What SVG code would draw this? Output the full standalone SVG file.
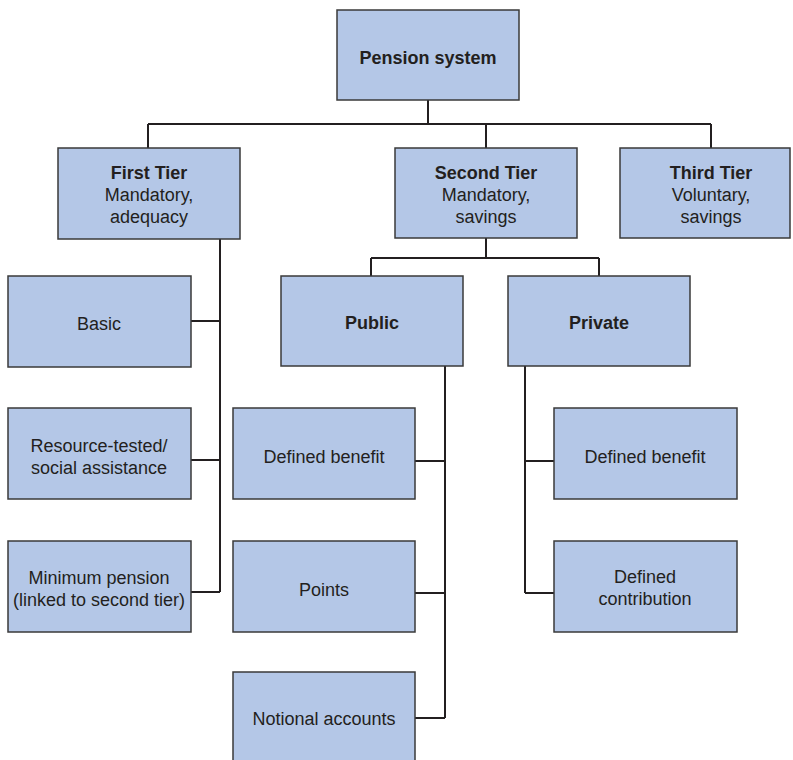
<svg xmlns="http://www.w3.org/2000/svg" width="793" height="760" viewBox="0 0 793 760">
<style>
.box{fill:#b4c7e7;stroke:#3a3a3a;stroke-width:1.5}
.t{font-family:"Liberation Sans",Arial,sans-serif;font-size:18px;fill:#231f20;text-anchor:middle}
.b{font-weight:bold}
.c{fill:none;stroke:#231f20;stroke-width:2}
</style>
<rect width="793" height="760" fill="#ffffff"/>
<g id="connectors">
<path class="c" d="M428 100V124M148 124H711M148 124V148M486 124V148M711 124V148"/>
<path class="c" d="M220 239V592M191 321H220M191 460H220M191 592H220"/>
<path class="c" d="M486 238V258M371 258H599M371 258V276M599 258V276"/>
<path class="c" d="M445 366V718M415 461H445M415 593H445M415 718H445"/>
<path class="c" d="M525 366V593M525 461H554M525 593H554"/>
</g>
<g id="pension-system"><rect class="box" x="337" y="10" width="182" height="90"/><text class="t b" x="428" y="64">Pension system</text></g>
<g id="first-tier"><rect class="box" x="58" y="148" width="182" height="91"/><text class="t" x="149" y="179"><tspan class="b">First Tier</tspan><tspan x="149" y="201">Mandatory,</tspan><tspan x="149" y="223">adequacy</tspan></text></g>
<g id="second-tier"><rect class="box" x="395" y="148" width="182" height="90"/><text class="t" x="486" y="179"><tspan class="b">Second Tier</tspan><tspan x="486" y="201">Mandatory,</tspan><tspan x="486" y="223">savings</tspan></text></g>
<g id="third-tier"><rect class="box" x="620" y="148" width="170" height="90"/><text class="t" x="711" y="179"><tspan class="b">Third Tier</tspan><tspan x="711" y="201">Voluntary,</tspan><tspan x="711" y="223">savings</tspan></text></g>
<g id="basic"><rect class="box" x="8" y="276" width="183" height="91"/><text class="t" x="99" y="330">Basic</text></g>
<g id="resource-tested"><rect class="box" x="8" y="408" width="183" height="91"/><text class="t" x="99" y="452">Resource-tested/<tspan x="99" y="474">social assistance</tspan></text></g>
<g id="minimum-pension"><rect class="box" x="8" y="541" width="183" height="91"/><text class="t" x="99" y="584">Minimum pension<tspan x="99" y="606">(linked to second tier)</tspan></text></g>
<g id="public"><rect class="box" x="281" y="276" width="182" height="90"/><text class="t b" x="372" y="329">Public</text></g>
<g id="private"><rect class="box" x="508" y="276" width="182" height="90"/><text class="t b" x="599" y="329">Private</text></g>
<g id="public-defined-benefit"><rect class="box" x="233" y="408" width="182" height="91"/><text class="t" x="324" y="463">Defined benefit</text></g>
<g id="points"><rect class="box" x="233" y="541" width="182" height="91"/><text class="t" x="324" y="596">Points</text></g>
<g id="notional-accounts"><rect class="box" x="233" y="672" width="182" height="91"/><text class="t" x="324" y="725">Notional accounts</text></g>
<g id="private-defined-benefit"><rect class="box" x="554" y="408" width="183" height="91"/><text class="t" x="645" y="463">Defined benefit</text></g>
<g id="defined-contribution"><rect class="box" x="554" y="541" width="183" height="91"/><text class="t" x="645" y="583">Defined<tspan x="645" y="605">contribution</tspan></text></g>
</svg>
